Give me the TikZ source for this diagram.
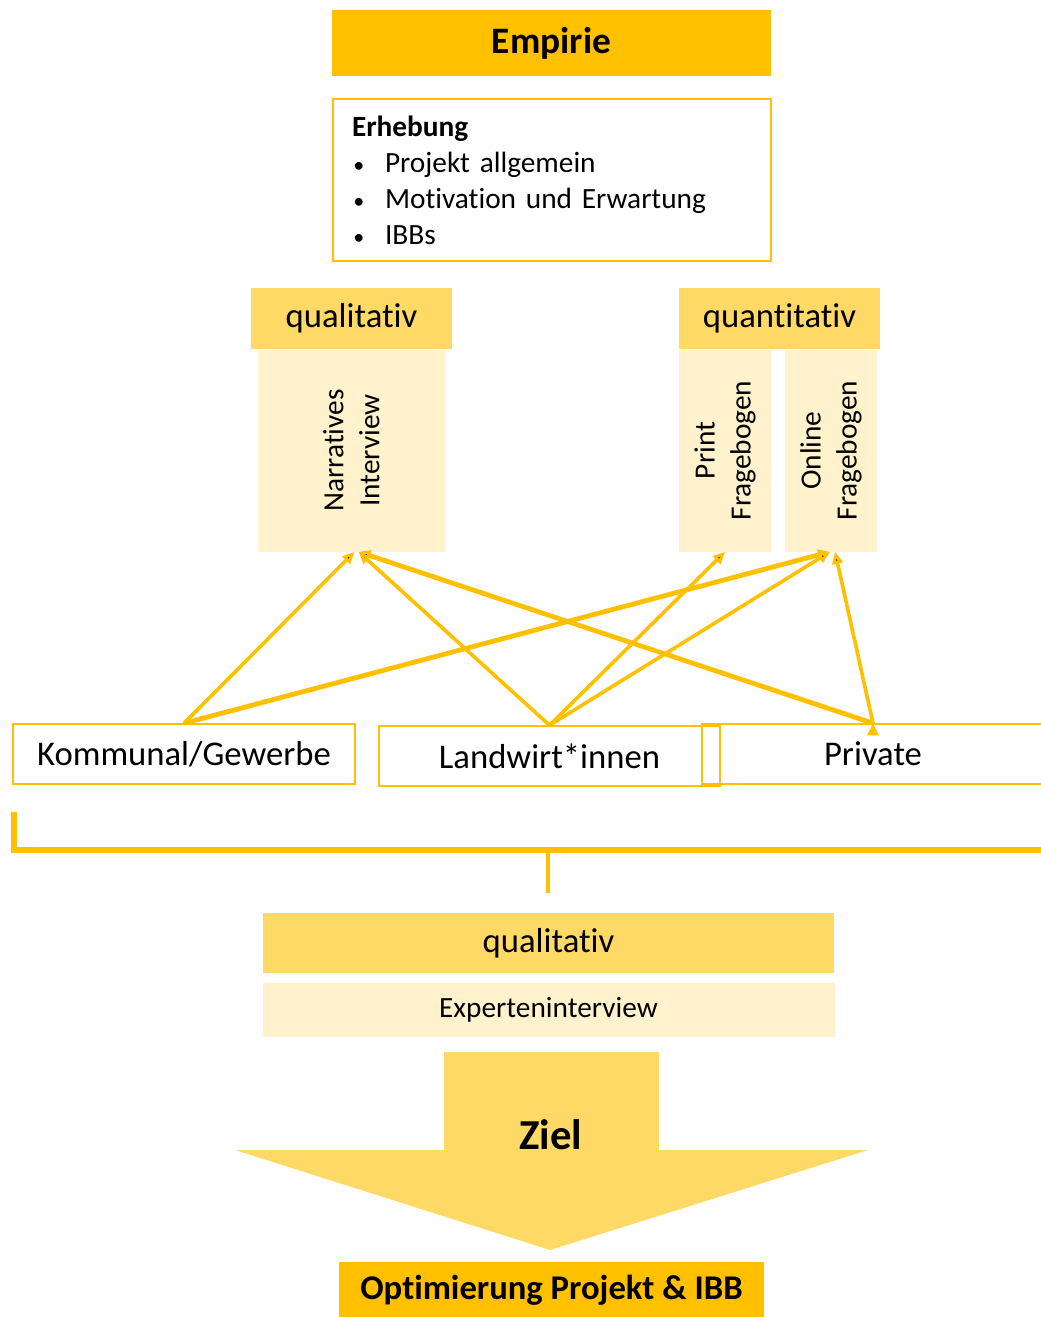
\documentclass[tikz,border=0pt]{standalone}
\usepackage{fontspec}
\setmainfont{Carlito}[Ligatures={NoCommon}]
\usetikzlibrary{positioning,arrows.meta}
\definecolor{gold}{HTML}{FFC000}
\definecolor{midgold}{HTML}{FFD966}
\definecolor{palegold}{HTML}{FFF2CC}
\newcommand{\bulletitem}{\makebox[24.75pt][l]{\hspace{1pt}\scalebox{0.75}{\textbullet}}}

\begin{document}
\begin{tikzpicture}[x=0.75pt, y=-0.75pt,
    head node/.style={rectangle, fill=gold, inner sep=0pt, font=\bfseries\fontsize{28}{33}\selectfont},
    mid node/.style={rectangle, fill=midgold, inner sep=0pt, minimum height=45.75pt, font=\fontsize{26}{31}\selectfont},
    pale node/.style={rectangle, fill=palegold, inner sep=0pt, font=\fontsize{22}{27}\selectfont},
    group node/.style={rectangle, draw=gold, line width=1.1pt, inner sep=0pt, minimum height=45pt, font=\fontsize{26}{31}\selectfont},
    link/.style={-{Triangle[length=9pt,width=8pt]}, draw=gold, line width=2.7pt}]
        \useasboundingbox (0,0) rectangle (1041,1317);

          % top part
          \node[head node, minimum width=329.25pt, minimum height=49.5pt] (empirie) at (551.5,43) {\raisebox{-1.5pt}{Empirie}};
          \node[draw=gold, line width=1.1pt, minimum width=328.5pt, minimum height=121.5pt, inner xsep=14.25pt, text width=300pt, align=left, font=\fontsize{22}{27}\selectfont] (erhebung) at (552,180)
            {\textbf{Erhebung}\\
             \bulletitem Projekt allgemein\\
             \bulletitem Motivation und Erwartung\\
             \bulletitem IBBs};

          % methods
          \node[mid node, minimum width=150.75pt] (qual) at (351.5,318.5) {qualitativ};
          \node[pale node, minimum width=141pt, minimum height=151.5pt, below=0pt of qual] (narr) {};
          \node[pale node, rotate=90, align=center] (narrtext) at (narr) {Narratives\\Interview};

          \node[mid node, minimum width=150.75pt] (quant) at (779.5,318.5) {quantitativ};
          \node[pale node, minimum width=69pt, minimum height=151.5pt, anchor=north west] (print) at (quant.south west) {};
          \node[pale node, minimum width=69pt, minimum height=151.5pt, anchor=north east] (online) at ([xshift=-2.25pt]quant.south east) {};
          \node[pale node, rotate=90, align=center] (printtext) at (print) {Print\\Fragebogen};
          \node[pale node, rotate=90, align=center] (onlinetext) at (online) {Online\\Fragebogen};

          % groups
          \node[group node, fill=white, minimum width=256.5pt] (kommunal) at (184,754) {Kommunal/Gewerbe};
          \node[group node, fill=white, minimum width=255.75pt] (landwirt) at (549.5,756) {Landwirt*innen};
          \node[group node, minimum width=256.5pt] (private) at (873,754) {Private};

          \path[link]
            (kommunal.north) edge ([xshift=2.25pt]narr.south)
                edge[line width=3.6pt] ([xshift=-0.75pt]online.south)
            (landwirt.north) edge ([xshift=5.25pt]narr.south)
                edge (print.south)
                edge ([xshift=-0.75pt]online.south)
            (private.north) edge[line width=3.6pt] ([xshift=5.25pt]narr.south)
                edge ([xshift=3pt]online.south);

          % bracket
          \coordinate (bl) at (14,812);
          \coordinate (br) at (1046,850);
          \coordinate (bc) at (548,850);
          \coordinate (bs) at (548,893);
          \draw[gold, line width=3.8pt] (bl) |- (br);
          \draw[gold, line width=2.8pt] (bc) -- (bs);

          % bottom part
          \node[mid node, minimum width=428.25pt, minimum height=45pt] (qual2) at (548.5,943) {qualitativ};
          \node[pale node, minimum width=429pt, minimum height=40.5pt, below=6.75pt of qual2] (expert) {Experteninterview};

          \fill[midgold] (444,1052) -- (659,1052) -- (659,1150) -- (868,1150) -- (550,1250) -- (235,1150) -- (444,1150) -- cycle;
          \node[font=\bfseries\fontsize{32}{38}\selectfont] (ziel) at (551,1135) {Ziel};

          \node[head node, minimum width=318.75pt, minimum height=42pt, font=\bfseries\fontsize{26}{31}\selectfont] (optimierung) at (551.5,1290) {Optimierung Projekt \& IBB};

        \end{tikzpicture}
\end{document}
